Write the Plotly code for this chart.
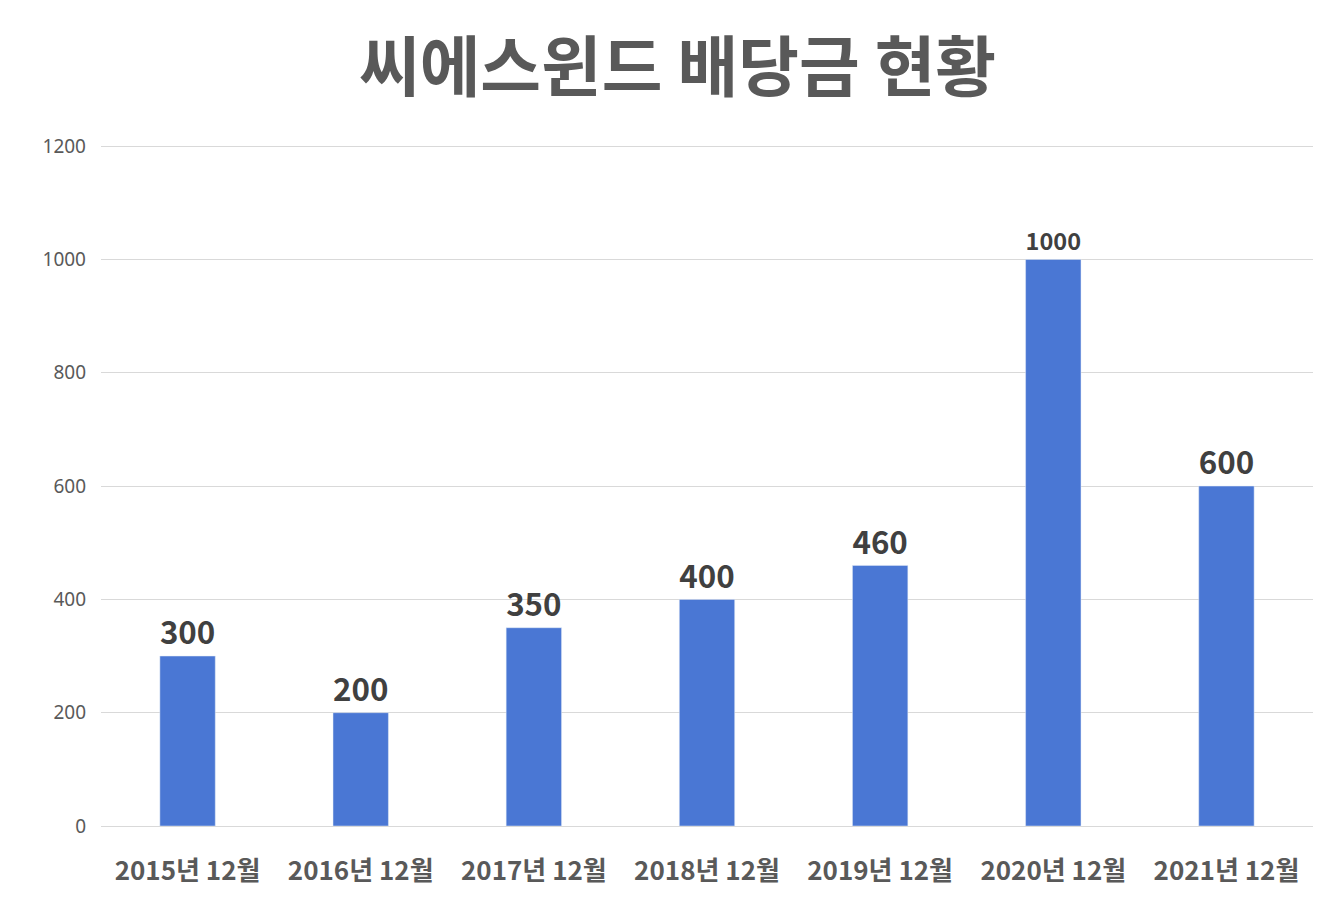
import plotly.graph_objects as go

years = ['2015년 12월', '2016년 12월', '2017년 12월', '2018년 12월', '2019년 12월', '2020년 12월', '2021년 12월']
dividends = [300, 200, 350, 400, 460, 1000, 600]

fig = go.Figure(go.Bar(
    x=years, y=dividends,
    marker_color='#4A77D4',
    text=[str(v) for v in dividends],
    textposition='outside',
    textfont=dict(size=32, color='#404040', family='Noto Sans CJK KR', weight='bold'),
    cliponaxis=False,
))
fig.update_layout(
    width=1339, height=915,
    margin=dict(l=93, r=34, t=137, b=97, autoexpand=False),
    paper_bgcolor='white', plot_bgcolor='white',
    title=dict(text='<b>씨에스윈드 배당금 현황</b>', x=0.5, y=0.935, xanchor='center', yanchor='middle',
               font=dict(size=66, color='#595959', family='Noto Sans CJK KR', weight=900)),
    bargap=0.68,
    showlegend=False,
)
fig.update_yaxes(range=[0, 1202], dtick=200, gridcolor='#D9D9D9', zeroline=False, automargin=False,
                 tickfont=dict(size=19, color='#595959', family='Noto Sans'), ticklabelstandoff=14)
fig.update_xaxes(showline=True, linecolor='#D9D9D9', automargin=False,
                 tickfont=dict(size=26, color='#595959', family='Noto Sans CJK KR', weight='bold'),
                 ticklabelstandoff=22)
fig.write_html("out.html")
